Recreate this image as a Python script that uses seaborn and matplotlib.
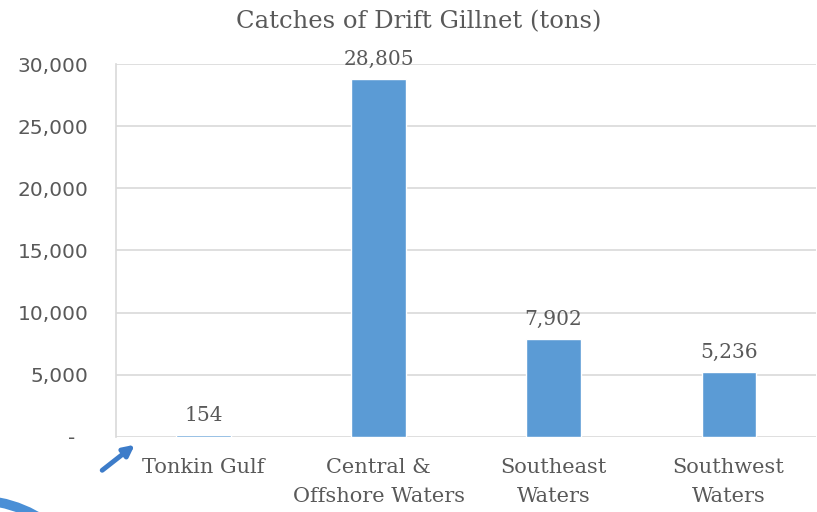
import numpy as np
import pandas as pd
import matplotlib
matplotlib.use('Agg')
import matplotlib.pyplot as plt
import matplotlib.patches as mpatches
from matplotlib.ticker import FuncFormatter, MultipleLocator
import seaborn as sns

# data
regions = ['Tonkin Gulf', 'Central &\nOffshore Waters', 'Southeast\nWaters', 'Southwest\nWaters']
catches = [154, 28805, 7902, 5236]
y_max = 30000
y_step = 5000

df = pd.DataFrame({'region': regions, 'catch': catches})

sns.set_theme(style='white')
plt.rcParams['font.family'] = ['DejaVu Serif']

text_col = '#595959'
bar_col = '#5B9BD5'
grid_col = '#D9D9D9'

fig = plt.figure(figsize=(8.17, 5.12), dpi=100)
ax = fig.add_axes([0.142, 0.1465, 0.857, 0.7285])

sns.barplot(data=df, x='region', y='catch', color=bar_col, width=0.31,
            saturation=1, ax=ax)

ax.set_ylim(0, y_max)
ax.set_xlim(-0.5, len(regions) - 0.5)
ax.yaxis.set_major_locator(MultipleLocator(y_step))
ax.yaxis.set_major_formatter(FuncFormatter(lambda v, p: '-  ' if v == 0 else f'{v:,.0f}'))
ax.grid(axis='y', color=grid_col, linewidth=1.2)
ax.set_axisbelow(True)
for s in ['top', 'right', 'bottom']:
    ax.spines[s].set_visible(False)
ax.spines['left'].set_color(grid_col)
ax.spines['left'].set_linewidth(1.2)
ax.tick_params(axis='both', length=0)
ax.tick_params(axis='y', pad=20, labelsize=14.5, labelcolor=text_col)
ax.tick_params(axis='x', pad=15, labelsize=15, labelcolor=text_col)
for lab in ax.get_yticklabels():
    lab.set_family('DejaVu Sans')
for lab in ax.get_xticklabels():
    lab.set_linespacing(1.65)
ax.set_xlabel('')
ax.set_ylabel('')

ax.bar_label(ax.containers[0], labels=[f'{v:,.0f}' for v in catches],
             padding=7, fontsize=14.5, color=text_col)

fig.text(0.512, 0.958, 'Catches of Drift Gillnet (tons)', ha='center', va='center',
         fontsize=17.5, color=text_col)

# slide decorations visible in the screenshot
fig.patches.append(mpatches.FancyArrowPatch((100 / 817, 1 - 472 / 512), (137 / 817, 1 - 443 / 512),
                                            transform=fig.transFigure, arrowstyle='-|>',
                                            mutation_scale=16, color='#3D7CC9', lw=3.5))
fig.patches.append(mpatches.Ellipse((-25 / 817, 1 - 625 / 512), 250 / 817, 250 / 512,
                                    transform=fig.transFigure, facecolor='none',
                                    edgecolor='#4A8FD6', lw=7))

plt.savefig('out.png', dpi=100)
